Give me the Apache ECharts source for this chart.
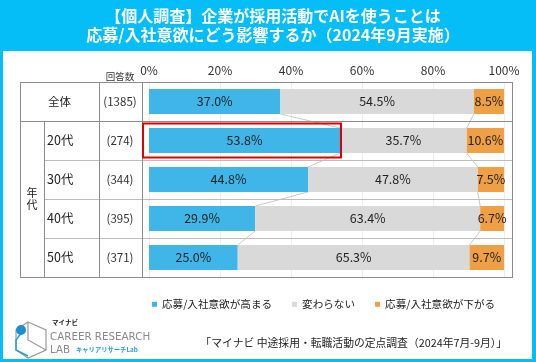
<!DOCTYPE html>
<html><head><meta charset="utf-8">
<script src="https://cdn.jsdelivr.net/npm/echarts@6/dist/echarts.min.js"></script>
<style>html,body{margin:0;padding:0;background:#fff}#c{width:536px;height:362px}</style>
</head><body><div id="c"></div><script>
const titleText = '【個人調査】企業が採用活動でAIを使うことは\n応募/入社意欲にどう影響するか（2024年9月実施）';
const categories = ['全体', '20代', '30代', '40代', '50代'];
const counts = ['(1385)', '(274)', '(344)', '(395)', '(371)'];
const seriesNames = ['応募/入社意欲が高まる', '変わらない', '応募/入社意欲が下がる'];
const up = [37.0, 53.8, 44.8, 29.9, 25.0];
const same = [54.5, 35.7, 47.8, 63.4, 65.3];
const down = [8.5, 10.6, 7.5, 6.7, 9.7];
const xTicks = [0, 20, 40, 60, 80, 100];
const highlightRow = 1;
const groupLabel = '年代';
const countHeader = '回答数';
const sourceText = '「マイナビ 中途採用・転職活動の定点調査（2024年7月-9月）」';

const FONT = '"Noto Sans CJK JP", "Noto Sans", sans-serif';
const CYAN = '#05bdf7';
const colors = ['#3fb5e8', '#d9d9d9', '#f0a044'];
const GL = 149, GT = 82, GW = 355, GH = 195;
const rowH = GH / categories.length;
const barFrac = 0.64;

const cumA = up.slice();
const cumB = up.map((v, i) => v + same[i]);

const chart = echarts.init(document.getElementById('c'), null, {renderer: 'canvas'});

const lineStyle = (c, w) => ({stroke: c, lineWidth: w || 1});
const tableLines = [];
function hl(x1, x2, y, c) { tableLines.push({type: 'line', z: 3, shape: {x1, y1: y, x2, y2: y}, style: lineStyle(c)}); }
function vl(x, y1, y2, c) { tableLines.push({type: 'line', z: 3, shape: {x1: x, y1, x2: x, y2}, style: lineStyle(c)}); }
const yb = i => Math.round(GT + rowH * i) + 0.5;
hl(20, 513, yb(0), '#8c8c8c');
hl(20, 513, yb(1), '#8c8c8c');
for (let i = 2; i < categories.length; i++) hl(44, 513, yb(i), '#bdbdbd');
hl(20, 513, yb(categories.length), '#8c8c8c');
vl(20.5, yb(0), yb(5), '#8c8c8c');
vl(44.5, yb(1), yb(5), '#8c8c8c');
vl(99.5, yb(0), yb(5), '#8c8c8c');
vl(142.5, yb(0), yb(5), '#8c8c8c');
vl(512.5, yb(0), yb(5), '#8c8c8c');

const option = {
  animation: false,
  textStyle: {fontFamily: FONT},
  title: {
    text: titleText, left: 268, top: 1, textAlign: 'center',
    textStyle: {color: '#fff', fontSize: 16, fontWeight: 'bold', lineHeight: 19, fontFamily: FONT}
  },
  legend: {
    data: seriesNames, left: 147, top: 294, icon: 'rect', itemWidth: 5, itemHeight: 5, itemGap: 20,
    textStyle: {fontSize: 10.6, color: '#222', fontFamily: FONT}
  },
  grid: {left: GL, top: GT, width: GW, height: GH},
  xAxis: {
    type: 'value', position: 'top', min: xTicks[0], max: xTicks[xTicks.length - 1], interval: 20,
    axisLine: {show: false}, axisTick: {show: false},
    axisLabel: {formatter: '{value}%', fontSize: 12, color: '#333', margin: 6},
    splitLine: {lineStyle: {color: '#ededed'}}
  },
  yAxis: [{
    type: 'category', data: categories, inverse: true,
    axisLine: {show: false}, axisTick: {show: false},
    axisLabel: {
      align: 'left', margin: GL - 20,
      formatter: (v, i) => i === 0 ? '{c|' + v + '}' : '{r|' + v + '}',
      rich: {
        c: {width: 79, align: 'center', fontSize: 11.5, color: '#222'},
        r: {padding: [0, 0, 0, 27], fontSize: 12.5, color: '#222'}
      }
    }
  }, {
    type: 'category', data: counts, inverse: true, position: 'left',
    axisLine: {show: false}, axisTick: {show: false},
    axisLabel: {align: 'center', margin: GL - 120, fontSize: 11.5, color: '#333'}
  }],
  series: [
    {name: seriesNames[0], data: up, color: colors[0]},
    {name: seriesNames[1], data: same, color: colors[1]},
    {name: seriesNames[2], data: down, color: colors[2]}
  ].map(s => ({
    type: 'bar', stack: 'all', barWidth: (barFrac * 100) + '%', name: s.name, data: s.data,
    itemStyle: {color: s.color},
    label: {show: true, position: 'inside', formatter: p => p.value.toFixed(1) + '%', color: '#222', fontSize: 12.5}
  })).concat([{
    type: 'custom', z: 1, silent: true,
    data: [0, 1, 2, 3].map(i => [0, i]),
    renderItem: (params, api) => {
      const i = api.value(1);
      const h = api.size([0, 1])[1] * barFrac / 2;
      const children = [cumA, cumB].map(arr => {
        const p1 = api.coord([arr[i], i]);
        const p2 = api.coord([arr[i + 1], i + 1]);
        return {type: 'line', shape: {x1: p1[0], y1: p1[1] + h, x2: p2[0], y2: p2[1] - h}, style: {stroke: '#c8c8c8', lineWidth: 1}};
      });
      return {type: 'group', children};
    }
  }, {
    type: 'custom', z: 5, silent: true,
    data: [[0, highlightRow]],
    renderItem: (params, api) => {
      const r = api.value(1);
      const h = api.size([0, 1])[1] * barFrac / 2;
      const p0 = api.coord([0, r]);
      const p1 = api.coord([up[r], r]);
      return {type: 'rect', shape: {x: p0[0] - 6, y: p0[1] - h - 4.5, width: p1[0] - p0[0] + 7, height: 2 * h + 9},
        style: {stroke: '#e00000', lineWidth: 2, fill: null}};
    }
  }]),
  graphic: [
    {type: 'rect', z: -10, shape: {x: 0, y: 0, width: 536, height: 51}, style: {fill: CYAN}},
    {type: 'rect', z: 20, shape: {x: 1.5, y: 1.5, width: 533, height: 359}, style: {stroke: CYAN, lineWidth: 3, fill: null}},
    {type: 'rect', z: 20, shape: {x: 532, y: 0, width: 4, height: 362}, style: {fill: CYAN}},
    {type: 'text', z: 4, x: 120, y: 76, style: {text: countHeader, fill: '#333', fontSize: 9.5, fontFamily: FONT, textAlign: 'center', textVerticalAlign: 'middle'}},
    {type: 'text', z: 4, x: 32, y: 199, style: {text: groupLabel.split('').join('\n'), fill: '#222', fontSize: 11, lineHeight: 12, fontFamily: FONT, textAlign: 'center', textVerticalAlign: 'middle'}},
    {type: 'text', z: 4, x: 507, y: 343, style: {text: sourceText, fill: '#222', fontSize: 10.8, fontFamily: FONT, textAlign: 'right', textVerticalAlign: 'middle'}},
    // logo
    {type: 'polygon', z: 4, shape: {points: [[28, 322], [46, 330], [46, 350], [28, 358], [16, 350], [16, 330]]}, style: {stroke: '#9a9a9a', lineWidth: 1.2, fill: null}},
    {type: 'polyline', z: 4, shape: {points: [[28, 322], [28, 340], [46, 350]]}, style: {stroke: '#9a9a9a', lineWidth: 1.2, fill: null}},
    {type: 'polyline', z: 4, shape: {points: [[22, 332], [16, 340], [16, 350], [28, 356]]}, style: {stroke: '#2a9fd6', lineWidth: 1.5, fill: null}},
    {type: 'circle', z: 5, shape: {cx: 21, cy: 330, r: 5}, style: {fill: '#1c8fd0'}},
    {type: 'text', z: 4, x: 52, y: 323, style: {text: 'マイナビ', fill: '#222', fontSize: 6.5, fontWeight: 'bold', fontFamily: FONT, textVerticalAlign: 'middle'}},
    {type: 'text', z: 4, x: 50, y: 337, style: {text: 'CAREER RESEARCH', fill: '#8a8a8a', fontSize: 10.3, fontFamily: '"DejaVu Sans", sans-serif', textVerticalAlign: 'middle'}},
    {type: 'text', z: 4, x: 50, y: 350, style: {text: 'LAB', fill: '#8a8a8a', fontSize: 10.3, fontFamily: '"DejaVu Sans", sans-serif', textVerticalAlign: 'middle'}},
    {type: 'text', z: 4, x: 76, y: 350, style: {text: 'キャリアリサーチLab', fill: '#2a9fd6', fontSize: 6.3, fontWeight: 'bold', fontFamily: FONT, textVerticalAlign: 'middle'}}
  ].concat(tableLines)
};
chart.setOption(option);
</script></body></html>
